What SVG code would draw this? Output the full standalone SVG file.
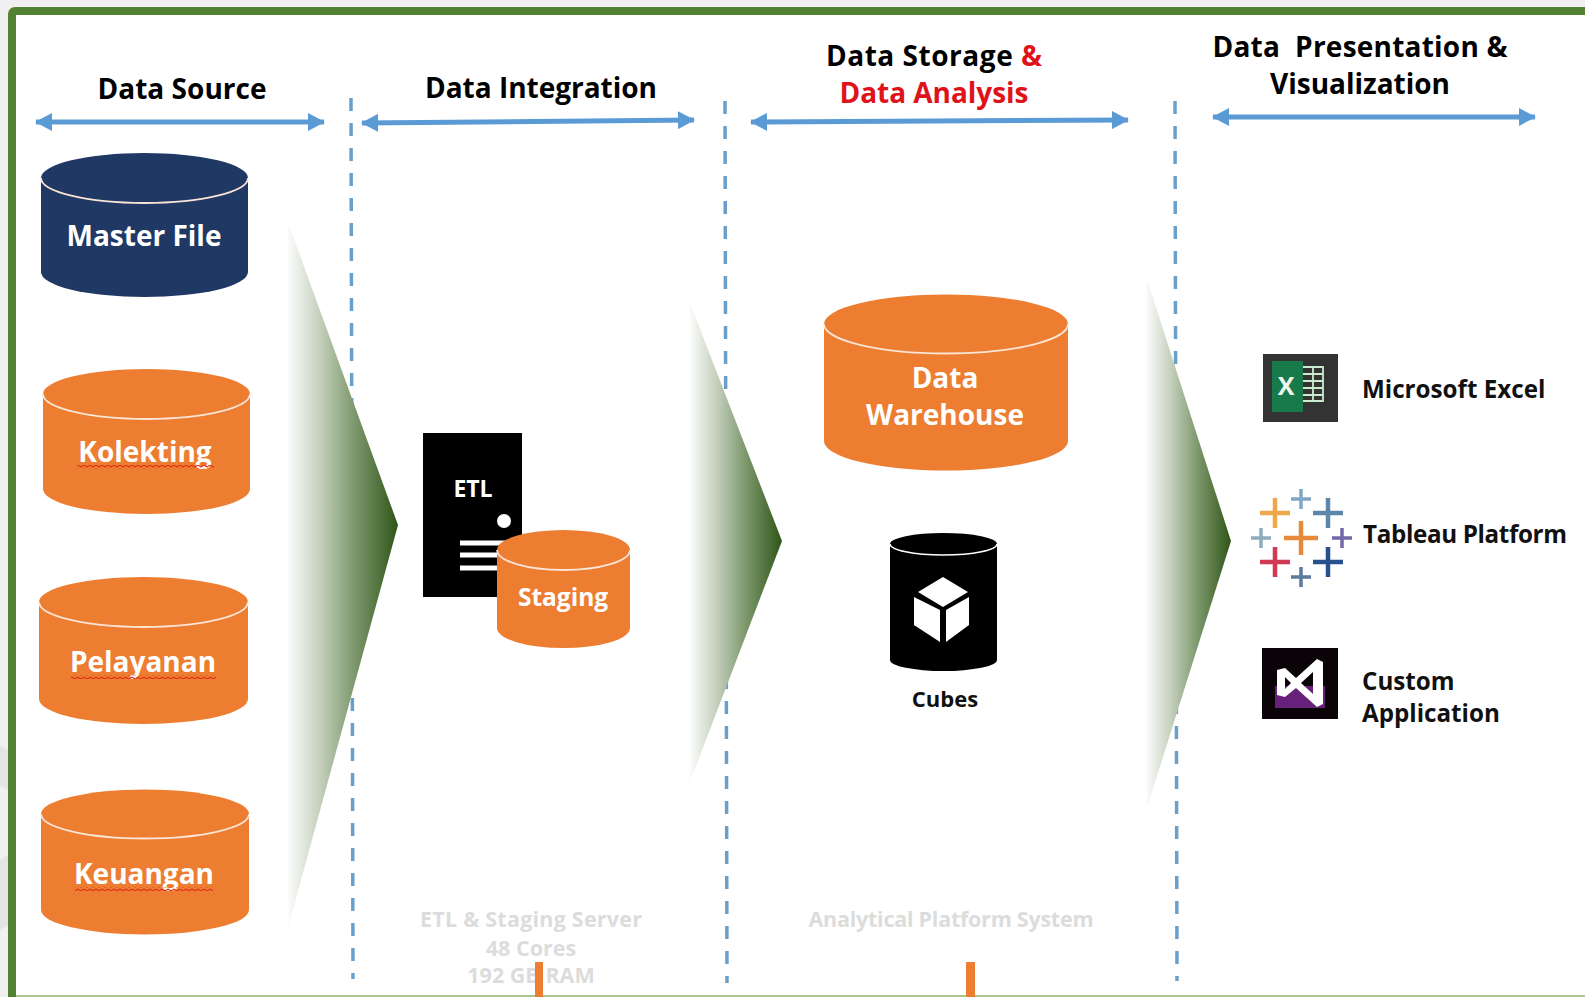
<svg xmlns="http://www.w3.org/2000/svg" width="1585" height="997" viewBox="0 0 1585 997">
<style>
text{font-family:"Open Sans","Liberation Sans",sans-serif;font-weight:700}
.h{font-size:28px;fill:#000;text-anchor:middle}
.r{fill:#e0131a}
.c{font-size:28px;fill:#fff;text-anchor:middle}
.l{font-size:24.2px;fill:#111}
.f{font-size:21.5px;fill:#dcdcdc;text-anchor:middle}
.o{fill:#ed7d31}
.n{fill:#1f3864}
.rim{fill:none;stroke:#fbe5d6;stroke-width:1.800}
.d{stroke:#6a9fca;stroke-width:3.500;stroke-dasharray:13 12;fill:none}
.a{stroke:#5b9bd5;stroke-width:5;fill:none;marker-start:url(#s);marker-end:url(#e)}
.t{fill:url(#g)}
.x{stroke-width:4.500;fill:none}
.xs{stroke-width:3.500;fill:none}
.w{fill:url(#wave)}
</style>
<defs>
<marker id="e" markerUnits="userSpaceOnUse" markerWidth="17" markerHeight="18" refX="16" refY="9" orient="auto"><path d="M0,0L17,9L0,18Z" fill="#5b9bd5"/></marker>
<marker id="s" markerUnits="userSpaceOnUse" markerWidth="17" markerHeight="18" refX="1" refY="9" orient="auto"><path d="M17,0L0,9L17,18Z" fill="#5b9bd5"/></marker>
<linearGradient id="g" x1="0" y1="0" x2="1" y2="0"><stop offset="0" stop-color="#fff"/><stop offset=".3" stop-color="#c5d0bd"/><stop offset=".6" stop-color="#7f9a6f"/><stop offset="1" stop-color="#2f5518"/></linearGradient>
<pattern id="wave" width="6" height="4" patternUnits="userSpaceOnUse"><path d="M0,1L3,3L6,1" fill="none" stroke="#e0331a" stroke-width="1.200"/></pattern>
</defs>

<g id="frame">
<rect width="1585" height="997" fill="#f0f0f0"/>
<path d="M0,745L8,750V790L0,785ZM0,860L8,855V925L0,930Z" fill="#e4e4e4"/>
<rect x="12" y="11" width="1580" height="990" rx="3" fill="#fff" stroke="#548235" stroke-width="8"/>
<rect x="16" y="995" width="1569" height="2" fill="#a9c48e"/>
</g>

<g id="connectors">
<path class="d" d="M351,98L353,979"/>
<path class="d" d="M725,101L727,983"/>
<path class="d" d="M1175,101L1177,981"/>
<path class="a" d="M36,122H324"/>
<path class="a" d="M362,123L694,120"/>
<path class="a" d="M751,122L1128,120"/>
<path class="a" d="M1213,117H1535"/>
<path class="t" d="M286,217L398,525L286,935Z"/>
<path class="t" d="M688,298L782,541L688,787Z"/>
<path class="t" d="M1145,273L1231,541L1145,814Z"/>
</g>

<g id="header-source"><text class="h" x="182" y="99" textLength="169">Data Source</text></g>
<g id="header-integration"><text class="h" x="541" y="98" textLength="232">Data Integration</text></g>
<g id="header-storage"><text class="h" x="934" y="66" textLength="216">Data Storage <tspan class="r">&amp;</tspan></text><text class="h r" x="934" y="103" textLength="189">Data Analysis</text></g>
<g id="header-presentation"><text class="h" x="1360" y="57" xml:space="preserve" textLength="295">Data  Presentation &amp;</text><text class="h" x="1360" y="94" textLength="180">Visualization</text></g>

<g id="master-file">
<path class="n" d="M41,178A103.500,25 0 0 1 248,178V272A103.500,25 0 0 1 41,272Z"/>
<path class="rim" d="M41,178A103.500,25 0 0 0 248,178"/>
<text class="c" x="144" y="246">Master File</text>
</g>
<g id="kolekting">
<path class="o" d="M43,394A103.500,25 0 0 1 250,394V489A103.500,25 0 0 1 43,489Z"/>
<path class="rim" d="M43,394A103.500,25 0 0 0 250,394"/>
<text class="c" x="145" y="462">Kolekting</text>
<rect class="w" x="77" y="465" width="137" height="4"/>
</g>
<g id="pelayanan">
<path class="o" d="M39,602A104.500,25 0 0 1 248,602V699A104.500,25 0 0 1 39,699Z"/>
<path class="rim" d="M39,602A104.500,25 0 0 0 248,602"/>
<text class="c" x="143" y="672">Pelayanan</text>
<rect class="w" x="71" y="675" width="145" height="4"/>
</g>
<g id="keuangan">
<path class="o" d="M41,814A104,24.500 0 0 1 249,814V910A104,24.500 0 0 1 41,910Z"/>
<path class="rim" d="M41,814A104,24.500 0 0 0 249,814"/>
<text class="c" x="144" y="884">Keuangan</text>
<rect class="w" x="75" y="887" width="138" height="4"/>
</g>

<g id="etl-server">
<rect x="423" y="433" width="99" height="164" fill="#000"/>
<text x="473" y="497" font-size="23" fill="#fff" text-anchor="middle">ETL</text>
<circle cx="504" cy="521" r="7" fill="#fff"/>
<path d="M460,543H505M460,555H505M460,568H505" stroke="#fff" stroke-width="5"/>
</g>
<g id="staging">
<path class="o" d="M497,550A66.500,20 0 0 1 630,550V628A66.500,20 0 0 1 497,628Z"/>
<path class="rim" d="M497,550A66.500,20 0 0 0 630,550"/>
<text class="c" x="563" y="606" style="font-size:24.500px">Staging</text>
</g>

<g id="data-warehouse">
<path class="o" d="M824,324A122,29.500 0 0 1 1068,324V441A122,29.500 0 0 1 824,441Z"/>
<path class="rim" d="M824,324A122,29.500 0 0 0 1068,324"/>
<text class="c" x="945" y="388">Data</text>
<text class="c" x="945" y="425">Warehouse</text>
</g>
<g id="cubes">
<path d="M890,544A53.500,11 0 0 1 997,544V660A53.500,11 0 0 1 890,660Z" fill="#000"/>
<path d="M890,544A53.500,11 0 0 0 997,544" fill="none" stroke="#fff" stroke-width="1.500"/>
<path fill="#fff" d="M943,577L968,592L943,607L918,592ZM914,597L940,610V642L914,625ZM946,610L969,597V625L946,642Z"/>
<text x="945" y="707" font-size="22" fill="#111" text-anchor="middle">Cubes</text>
</g>

<g id="excel">
<rect x="1263" y="354" width="75" height="68" fill="#333"/>
<rect x="1272" y="361" width="31" height="51" fill="#187a4a"/>
<text x="1286" y="395" font-size="25" fill="#eef7f0" text-anchor="middle">X</text>
<path d="M1303,367H1323V401H1303M1303,374H1323M1303,381H1323M1303,388H1323M1303,395H1323M1313,367V401" fill="none" stroke="#c8ecd0" stroke-width="1.800"/>
<text class="l" x="1362" y="398">Microsoft Excel</text>
</g>
<g id="tableau">
<path class="x" stroke="#e88a3c" d="M1284,538H1318M1301,521V555"/>
<path class="x" stroke="#eda84a" d="M1260,513H1290M1275,498V528"/>
<path class="x" stroke="#5c87ab" d="M1313,513H1343M1328,498V528"/>
<path class="x" stroke="#d13a55" d="M1260,562H1290M1275,547V577"/>
<path class="x" stroke="#27508c" d="M1313,562H1343M1328,547V577"/>
<path class="xs" stroke="#7fa8c4" d="M1291,499H1311M1301,489V509"/>
<path class="xs" stroke="#8fadbd" d="M1251,538H1271M1261,528V548"/>
<path class="xs" stroke="#7468a8" d="M1332,538H1352M1342,528V548"/>
<path class="xs" stroke="#5c7a9e" d="M1291,577H1311M1301,567V587"/>
<text class="l" x="1363" y="543" textLength="204">Tableau Platform</text>
</g>
<g id="custom-application">
<rect x="1262" y="648" width="76" height="71" fill="#0a0408"/>
<rect x="1275" y="686" width="50" height="22" fill="#68217a"/>
<path fill="#fff" fill-rule="evenodd" d="M1277,670L1285,668L1296,678L1317,659L1323,662V704L1317,707L1296,688L1285,697L1277,695ZM1285,677L1291,683L1285,689ZM1313,672L1313,694L1301,683Z"/>
<text class="l" x="1362" y="690">Custom</text>
<text class="l" x="1362" y="722">Application</text>
</g>

<g id="faint-notes">
<text class="f" x="531" y="927" textLength="222">ETL &amp; Staging Server</text>
<text class="f" x="531" y="956">48 Cores</text>
<text class="f" x="531" y="983">192 GB RAM</text>
<text class="f" x="951" y="927" textLength="285">Analytical Platform System</text>
</g>
<g id="orange-bars">
<rect x="535" y="962" width="8" height="35" fill="#ed7d31"/>
<rect x="966" y="962" width="9" height="35" fill="#ed7d31"/>
</g>
</svg>
